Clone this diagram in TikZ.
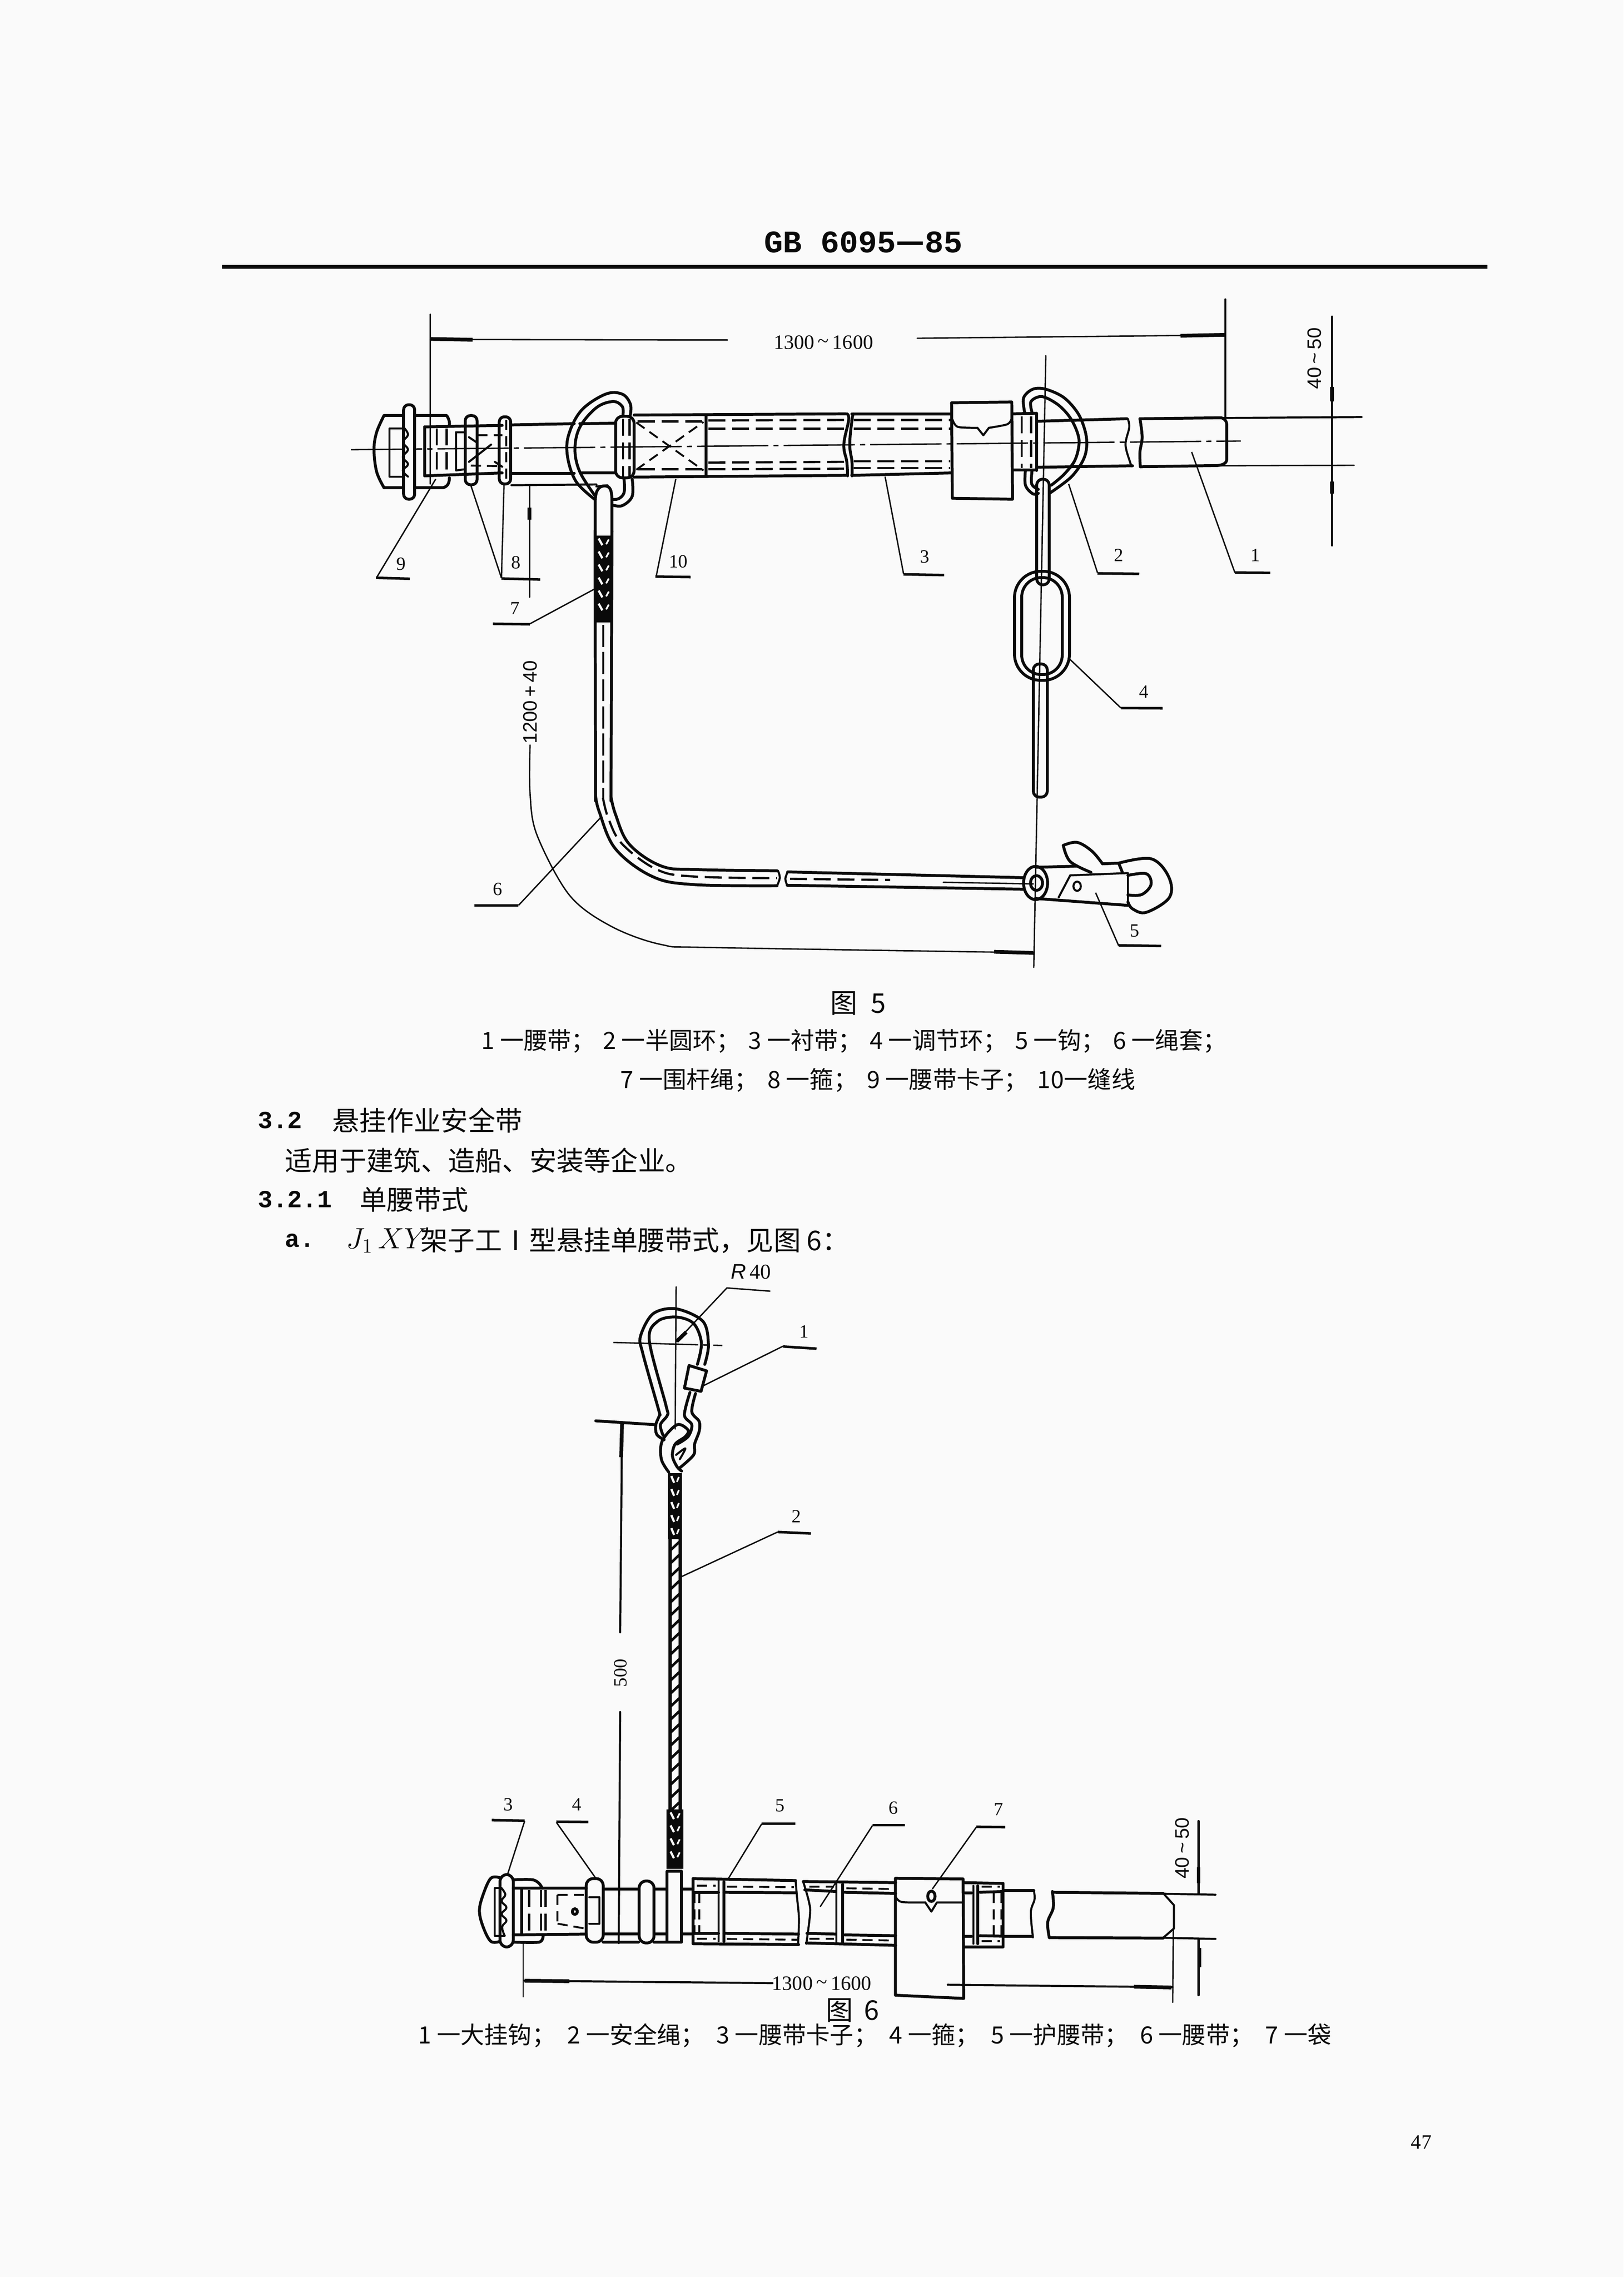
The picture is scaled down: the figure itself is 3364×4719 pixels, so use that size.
\documentclass[tikz,border=0pt]{standalone}
\usepackage{fontspec}
\setmainfont{Liberation Serif}
\setsansfont{Liberation Sans}
\setmonofont{Liberation Mono}
\newfontfamily\cjk{Noto Sans CJK SC}
\definecolor{paper}{HTML}{FAFAFA}
\definecolor{ink}{HTML}{0A0A0A}
\newcommand\rbraid[4]{%
  \fill[ink] (#1,#3) rectangle (#2,#4);
  \pgfmathsetmacro\bxa{#1+0.24*(#2-#1)}%
  \pgfmathsetmacro\bxb{#1+0.44*(#2-#1)}%
  \pgfmathsetmacro\bxc{#1+0.78*(#2-#1)}%
  \pgfmathsetmacro\bxd{#1+0.64*(#2-#1)}%
  \pgfmathsetmacro\bya{#3+6}%
  \pgfmathsetmacro\byb{#3+33}%
  \pgfmathsetmacro\byc{#4-14}%
  \foreach \yy in {\bya,\byb,...,\byc} {
    \draw[paper,line width=1.3pt] (\bxa,\yy) -- (\bxb,\yy+14);
    \draw[paper,line width=1pt] (\bxc,\yy+2) -- (\bxd,\yy+12);
  }
}
\tikzset{
  ol/.style={draw=ink,line width=1.7pt,line join=round,line cap=round},
  om/.style={draw=ink,line width=1.2pt,line join=round,line cap=round},
  tl/.style={draw=ink,line width=0.8pt,line cap=round},
  ld/.style={draw=ink,line width=0.8pt,line join=round},
  shelf/.style={draw=ink,line width=1.5pt},
  heavy/.style={draw=ink,line width=2.2pt},
  dsh/.style={draw=ink,line width=1.3pt,dash pattern=on 10pt off 4pt},
  dshs/.style={draw=ink,line width=1.1pt,dash pattern=on 6pt off 3.5pt},
  cl/.style={draw=ink,line width=0.8pt,dash pattern=on 42pt off 3pt on 3pt off 3pt},
  lab/.style={font=\fontsize{11}{12}\selectfont,text=ink,inner sep=0pt},
  dimt/.style={font=\fontsize{12}{13}\selectfont,text=ink,inner sep=0pt},
  dimr/.style={font=\sffamily\fontsize{11.5}{12}\selectfont,text=ink,inner sep=0pt,rotate=90},
  capt/.style={font=\cjk\fontsize{14}{15}\selectfont,text=ink,inner sep=0pt,anchor=west},
  body/.style={font=\cjk\fontsize{16}{17}\selectfont,text=ink,inner sep=0pt,anchor=west},
  bnum/.style={font=\ttfamily\bfseries\fontsize{14.5}{15}\selectfont,text=ink,inner sep=0pt,anchor=west},
  zA/.style={shift={(700,600)},xscale=.7653,yscale=.5102},
  zB/.style={shift={(1700,600)},xscale=.7653,yscale=.5102},
  zC/.style={shift={(950,1300)},xscale=.9566,yscale=.4783},
  zD/.style={shift={(1200,2600)},xscale=.3827,yscale=.4464},
  zE/.style={shift={(950,3700)},xscale=.6378,yscale=.3333},
  zF/.style={shift={(1750,3700)},xscale=.6378,yscale=.3333},
}
\begin{document}
\begin{tikzpicture}[x=0.01cm,y=-0.01cm]
\fill[paper] (0,0) rectangle (3364,4719);
\useasboundingbox (0,0) rectangle (3364,4719);

% ---------- header ----------
\node[font=\ttfamily\bfseries\fontsize{18.5}{20}\selectfont,text=ink,inner sep=0pt] (title) at (1789,502) {GB 6095{\cjk\bfseries —}85};
\draw[draw=ink,line width=2.4pt] (460,553) -- (3082,553);

% ---------- figure 5: centre line and long verticals ----------
\draw[cl] (727,932) -- (2571,914);
\draw[tl] (2167,737) -- (2142,2005);

% ---------- figure 5, left zoom ----------
\begin{scope}[zA]
  % dimension
  \draw[tl] (250,100) -- (250,790);
  \draw[tl] (250,203) -- (1055,205);
  \draw[heavy] (252,201) -- (365,204);
  \node[dimt] (d1300a) at (1315,215) {1300\,\raisebox{.15ex}{\textasciitilde}\,1600};
  % buckle
  \draw[ol] plot[smooth,tension=.6] coordinates {(125,512) (105,580) (98,650) (105,740) (125,805)};
  \draw[ol] (125,512) -- (295,512) .. controls (302,530) and (303,540) .. (302,552);
  \draw[ol] (125,805) -- (285,805) .. controls (298,800) and (302,785) .. (302,765);
  \draw[ol,fill=paper,rounded corners=3pt] (178,468) rectangle (208,852);
  \draw[om] (178,565) -- (140,565) -- (140,760) -- (178,760);
  \draw[om] plot[smooth,tension=.7] coordinates {(178,560) (190,590) (176,620) (190,650) (176,680) (190,710) (176,735) (190,760)};
  \draw[ol] (235,558) -- (235,757);
  \draw[ol] (235,558) -- (445,552);
  \draw[ol] (235,757) -- (445,745);
  \draw[dsh] (268,565) -- (268,750);
  \draw[dsh] (295,565) -- (295,745);
  \draw[om] (320,580) -- (320,735) -- (345,730);
  \draw[om] (320,580) -- (345,580);
  \draw[dshs] (378,592) -- (445,592);
  \draw[dshs] (360,715) -- (445,718);
  \draw[om] (355,600) -- (375,620);
  \draw[om] (425,700) -- (445,720);
  \draw[om] (415,630) -- (355,700);
  % hoops
  \draw[ol,rounded corners=3pt] (345,512) rectangle (377,793);
  \draw[ol,rounded corners=3pt] (437,517) rectangle (468,790);
  \draw[dshs] (456,530) -- (456,780);
  % belt piece
  \draw[ol] (470,550) -- (640,545);
  \draw[ol] (470,746) -- (640,746);
  \draw[om] (470,795) -- (700,792);
  \draw[ol] (655,545) -- (752,543);
  \draw[ol] (660,745) -- (752,745);
  % arrow of vertical dim
  \draw[tl] (519,795) -- (519,1250);
  \draw[heavy] (519,885) -- (519,935);
  % D ring left
  \draw[ol] plot[smooth,tension=.6] coordinates {(792,510) (792,465) (770,425) (725,425) (660,490) (625,590) (622,680) (645,780) (695,852)};
  \draw[ol] plot[smooth,tension=.6] coordinates {(772,510) (770,475) (745,455) (700,480) (655,560) (642,650) (655,740) (695,835)};
  \draw[ol] plot[smooth,tension=.6] coordinates {(797,770) (797,840) (770,878) (742,875)};
  \draw[ol] plot[smooth,tension=.6] coordinates {(775,770) (775,825) (760,850) (742,852)};
  % rope loop
  \draw[ol] (697,1000) -- (697,860) .. controls (697,810) and (710,798) .. (722,798) .. controls (738,798) and (742,815) .. (742,860) -- (742,1000);
  \draw[om] (700,800) -- (730,795);
  % sleeve
  \draw[ol,rounded corners=4pt] (752,515) rectangle (802,765);
  \draw[dsh] (772,525) -- (772,760);
  \draw[dsh] (790,525) -- (790,760);
  % belt with cross stitch
  \draw[ol] (802,510) -- (1375,505);
  \draw[ol] (802,762) -- (1375,755);
  \draw[ol] (997,510) -- (997,758);
  \draw[dsh] (812,536) -- (990,536);
  \draw[dsh] (812,730) -- (990,730);
  \draw[dshs] (808,540) -- (990,735);
  \draw[dshs] (808,732) -- (990,538);
  \draw[dsh] (1003,532) -- (1372,530);
  \draw[dsh] (1003,565) -- (1372,565);
  \draw[dsh] (1003,703) -- (1372,700);
  \draw[dsh] (1003,730) -- (1372,728);
  \draw[ol] plot[smooth,tension=.7] coordinates {(1378,505) (1383,530) (1370,630) (1378,700) (1380,757)};
  \draw[ol] plot[smooth,tension=.7] coordinates {(1396,505) (1392,530) (1386,630) (1392,700) (1392,757)};
  % leaders + labels
  \node[lab] (n9) at (172,1115) {9};
  \draw[ld] (265,770) -- (105,1170);
  \draw[shelf] (103,1171) -- (195,1175);
  \node[lab] (n8) at (482,1110) {8};
  \draw[ld] (360,795) -- (443,1172);
  \draw[ld] (450,790) -- (443,1172);
  \draw[shelf] (443,1174) -- (548,1178);
  \node[lab] (n10) at (922,1105) {10};
  \draw[ld] (915,770) -- (862,1165);
  \draw[shelf] (860,1166) -- (955,1168);
  \node[lab] (n7) at (480,1295) {7};
  \draw[ld] (697,1215) -- (520,1358);
  \draw[shelf] (520,1360) -- (420,1358);
\end{scope}

% rope of figure 5
\draw[ol] (1233,1100) -- (1234,1660);
\draw[ol] (1268,1100) -- (1266,1660);
\rbraid{1231}{1270}{1110}{1290}
\draw[draw=ink,line width=1.2pt,dash pattern=on 13pt off 3pt] (1250,1295) -- (1250,1660);

% ---------- figure 5, right zoom ----------
\begin{scope}[zB]
  \draw[ol] (85,505) -- (355,505);
  \draw[ol] (85,755) -- (355,745);
  \draw[dsh] (90,530) -- (352,530);
  \draw[dsh] (90,565) -- (352,565);
  \draw[dsh] (90,698) -- (352,698);
  \draw[dsh] (90,725) -- (352,725);
  % pad
  \draw[ol] (355,460) -- (518,457) -- (520,852) -- (357,848) -- cycle;
  \draw[om] plot[smooth,tension=.5] coordinates {(358,530) (372,558) (425,562)};
  \draw[om] (425,562) -- (441,592) -- (456,562);
  \draw[om] plot[smooth,tension=.5] coordinates {(456,562) (505,548) (516,530)};
  % sleeve
  \draw[ol] (520,505) -- (585,503);
  \draw[ol] (520,733) -- (585,733);
  \draw[ol] (585,503) -- (585,735);
  \draw[dsh] (545,515) -- (545,725);
  \draw[dsh] (570,515) -- (570,725);
  \draw[ol] (590,535) -- (830,525);
  \draw[ol] (590,722) -- (845,716);
  \draw[om] plot[smooth,tension=.6] coordinates {(832,525) (836,560) (826,630) (838,700) (843,718)};
  \draw[ol] plot[smooth,tension=.6] coordinates {(865,525) (871,600) (865,660) (866,720)};
  \draw[ol] (865,525) -- (1085,521) .. controls (1095,525) and (1100,535) .. (1100,550) -- (1100,690) .. controls (1100,705) and (1090,713) .. (1075,715) -- (866,720);
  % D ring right
  \draw[ol] plot[smooth,tension=.55] coordinates {(553,500) (550,440) (575,405) (610,405) (660,440) (700,510) (720,600) (715,680) (680,760) (620,828)};
  \draw[ol] plot[smooth,tension=.55] coordinates {(573,500) (570,455) (600,435) (645,470) (680,530) (700,610) (690,690) (660,750) (625,795)};
  \draw[ol] plot[smooth,tension=.6] coordinates {(555,735) (555,795) (575,830) (590,828)};
  \draw[ol] plot[smooth,tension=.6] coordinates {(573,735) (572,790) (590,812)};
  % extension and dim
  \draw[om] (1096,40) -- (1096,522);
  \draw[heavy] (975,188) -- (1096,184);
  \draw[tl] (262,198) -- (1096,185);
  \draw[om] (1085,522) -- (1465,518);
  \draw[tl] (1080,716) -- (1445,714);
  \draw[om] (1385,110) -- (1385,1040);
  \draw[heavy] (1385,395) -- (1385,455);
  \draw[heavy] (1385,780) -- (1385,830);
  \node[dimr] (d40a) at (1338,280) {40\,\textasciitilde\,50};
  \node[lab] (n3) at (283,1085) {3};
  \draw[ld] (175,760) -- (225,1155);
  \draw[shelf] (225,1157) -- (335,1160);
  \node[lab] (n2) at (808,1080) {2};
  \draw[ld] (672,790) -- (750,1150);
  \draw[shelf] (750,1153) -- (863,1155);
  \node[lab] (n1) at (1178,1080) {1};
  \draw[ld] (1005,660) -- (1122,1150);
  \draw[shelf] (1122,1150) -- (1218,1151);
\end{scope}

% chain of figure 5
\draw[ol,rounded corners=3.5pt] (2148,993) rectangle (2174,1212);
\draw[ol,rounded corners=15.5pt] (2102,1184) rectangle (2216,1410);
\draw[ol,rounded corners=11.5pt] (2117,1197) rectangle (2201,1398);
\draw[ol,rounded corners=3.5pt] (2141,1376) rectangle (2170,1652);

% ---------- figure 5, lower zoom ----------
\begin{scope}[zC]
  \draw[ol] plot[smooth,tension=.6] coordinates {(297,730) (305,800) (340,960) (420,1080) (510,1115) (690,1120)};
  \draw[ol] plot[smooth,tension=.6] coordinates {(330,730) (340,810) (370,940) (440,1035) (520,1050) (690,1055)};
  \draw[dsh] plot[smooth,tension=.6] coordinates {(313,740) (325,830) (355,940) (430,1050) (510,1080) (690,1087)};
  \draw[om] plot[smooth,tension=.6] coordinates {(692,1055) (696,1085) (690,1120)};
  \draw[om] plot[smooth,tension=.6] coordinates {(713,1060) (708,1090) (712,1118)};
  \draw[ol] (713,1060) -- (1225,1085);
  \draw[ol] (712,1118) -- (1225,1135);
  \draw[dsh] (718,1090) -- (935,1095);
  \draw[tl] (1050,1105) -- (1245,1112);
  % hook
  \draw[ol] (1250,1108) ellipse (26 and 72);
  \draw[ol] (1252,1108) ellipse (13 and 32);
  \draw[ol] (1252,1040) -- (1340,1035);
  \draw[ol] (1250,1175) -- (1450,1205);
  \draw[om] (1325,1075) -- (1450,1065) -- (1450,1203);
  \draw[om] (1325,1075) -- (1300,1170);
  \draw[om] (1340,1122) ellipse (8 and 20);
  \draw[ol] plot[smooth,tension=.6] coordinates {(1310,945) (1340,932) (1372,970) (1395,1025)};
  \draw[ol] plot[smooth,tension=.6] coordinates {(1310,945) (1325,1015) (1370,1062)};
  \draw[ol] (1395,1025) -- (1430,1022) -- (1438,1062);
  \draw[ol] plot[smooth,tension=.6] coordinates {(1430,1022) (1500,1003) (1538,1080) (1540,1170) (1490,1235) (1460,1220) (1450,1190)};
  \draw[ol] plot[smooth,tension=.6] coordinates {(1450,1075) (1490,1068) (1500,1115) (1480,1158) (1450,1160)};
  % dimension 1200
  \draw[tl] plot[smooth,tension=.55] coordinates {(155,510) (155,720) (170,900) (240,1160) (330,1295) (440,1375) (560,1388) (1245,1410)};
  \draw[heavy] (1160,1406) -- (1245,1411);
  \node[dimr] (d1200) at (155,325) {1200\,+\,40};
  \node[lab] (n4) at (1485,280) {4};
  \draw[ld] (1325,140) -- (1435,350);
  \draw[shelf] (1435,350) -- (1525,351);
  \node[lab] (n5) at (1465,1315) {5};
  \draw[ld] (1380,1150) -- (1430,1380);
  \draw[shelf] (1430,1378) -- (1522,1381);
  \node[lab] (n6) at (85,1135) {6};
  \draw[ld] (310,820) -- (130,1205);
  \draw[shelf] (130,1205) -- (35,1205);
\end{scope}

% ---------- texts in the middle ----------
\node[font=\cjk\fontsize{16}{17}\selectfont,text=ink,inner sep=0pt] (f5) at (1778,2079) {图\hspace{.5em}5};
\node[capt] (c5a) at (997,2158) {\hbox to 15.43cm{1 一腰带；\hfil 2 一半圆环；\hfil 3 一衬带；\hfil 4 一调节环；\hfil 5 一钩；\hfil 6 一绳套；}};
\node[capt] (c5b) at (1285,2239) {\hbox to 10.66cm{7 一围杆绳；\hfil 8 一箍；\hfil 9 一腰带卡子；\hfil 10一缝线}};
\node[bnum] (s32) at (534,2322) {3.2};
\node[body] (s32t) at (688,2322) {悬挂作业安全带};
\node[body] (p1) at (590,2405) {适用于建筑、造船、安装等企业。};
\node[bnum] (s321) at (534,2486) {3.2.1};
\node[body] (s321t) at (745,2486) {单腰带式};
\node[bnum] (sa) at (590,2571) {a.};
\node[body] (pa1) at (717,2571) {\fontsize{17}{18}\selectfont$J_1\,XY$};
\node[body] (pa2) at (871,2571) {架子工Ⅰ型悬挂单腰带式，见图 6：};
\node[lab,font=\fontsize{12}{13}\selectfont] (pg) at (2945,4440) {47};

% ---------- figure 6, top zoom ----------
\begin{scope}[zD]
  \draw[tl] (525,150) -- (520,810);
  \draw[draw=ink,line width=.8pt,dash pattern=on 50pt off 3pt on 3pt off 3pt] (185,408) -- (775,422);
  \draw[ld] (1035,170) -- (800,155) -- (525,405);
  \draw[heavy] (528,403) -- (580,360);
  \node[lab,font=\fontsize{12.5}{13}\selectfont] (r40) at (930,80) {\textsf{\textit{R}}\,40};
  \draw[ol] plot[smooth,tension=.55] coordinates {(680,510) (700,420) (670,310) (525,252) (400,275) (332,380) (345,460) (430,720) (435,745) (415,790) (420,835) (460,860)};
  \draw[ol] plot[smooth,tension=.55] coordinates {(640,510) (662,410) (620,320) (525,290) (425,310) (380,400) (470,700) (478,745) (440,790) (455,840)};
  \draw[ol] (595,515) -- (690,540) -- (660,635) -- (570,620) -- cycle;
  \draw[ol] plot[smooth,tension=.55] coordinates {(600,640) (570,745) (610,790) (590,845) (530,880)};
  \draw[ol] plot[smooth,tension=.55] coordinates {(630,645) (610,730) (650,775) (650,820) (625,880) (620,930) (545,990)};
  \draw[ol] plot[smooth,tension=.55] coordinates {(485,1010) (445,950) (450,865) (530,790) (590,815) (575,845) (520,880) (505,935) (530,985) (555,1005)};
  \draw[om] plot[smooth,tension=.55] coordinates {(525,930) (575,900) (545,950)};
  \draw[ol] (90,772) -- (415,790);
  \node[lab] (n1b) at (1218,358) {1};
  \draw[ld] (670,610) -- (1105,425);
  \draw[shelf] (1105,427) -- (1285,437);
  \node[lab] (n2b) at (1175,1215) {2};
  \draw[ld] (555,1495) -- (1075,1288);
  \draw[shelf] (1075,1288) -- (1255,1295);
\end{scope}

% rope of figure 6
\draw[heavy] (1289,2948) -- (1287,3020);
\draw[om] (1289,2948) -- (1285,3383);
\node[lab,rotate=90] (d500) at (1286,3467) {500};
\draw[om] (1285,3548) -- (1282,4027);
\draw[draw=ink,line width=2pt] (1388,3190) -- (1388,3760);
\draw[draw=ink,line width=2pt] (1409,3190) -- (1409,3760);
\foreach \yy in {3195,3222,...,3740} {
  \draw[draw=ink,line width=1.5pt] (1389,\yy+18) -- (1408,\yy);
}
\rbraid{1384}{1413}{3053}{3190}
\rbraid{1381}{1416}{3750}{3873}

% ---------- figure 6, belt left ----------
\begin{scope}[zE]
  \draw[ol] plot[smooth,tension=.6] coordinates {(135,575) (105,578) (80,680) (68,780) (80,880) (105,970) (135,970)};
  \draw[ol,rounded corners=4pt] (135,555) rectangle (178,1005);
  \draw[om] (140,640) -- (118,640) -- (118,935) -- (150,935);
  \draw[om] plot[smooth,tension=.7] coordinates {(140,640) (152,680) (140,720) (156,760) (140,800) (156,840) (142,880) (150,935)};
  \draw[ol] plot[smooth,tension=.5] coordinates {(178,587) (240,587) (262,610) (272,640)};
  \draw[ol] plot[smooth,tension=.5] coordinates {(178,975) (262,975) (275,935)};
  \draw[ol] (178,640) -- (415,640);
  \draw[ol] (178,930) -- (415,925);
  \draw[ol] (205,640) -- (205,930);
  \draw[dsh] (230,650) -- (230,925);
  \draw[dsh] (268,650) -- (268,925);
  \draw[dsh] (283,650) -- (283,925);
  \draw[dshs] (322,682) -- (410,682);
  \draw[dshs] (322,682) -- (322,860);
  \draw[dshs] (322,860) -- (410,890);
  \draw[ol] (378,785) ellipse (8 and 18);
  \draw[ol,rounded corners=4pt] (415,580) rectangle (470,975);
  \draw[om] (425,695) -- (458,695) -- (458,860) -- (425,860);
  \draw[ol] (470,645) -- (585,645);
  \draw[ol] (470,925) -- (585,925);
  \draw[ol] (470,975) -- (585,975);
  \draw[ol,rounded corners=4pt] (587,595) rectangle (635,980);
  \draw[ol] (635,645) -- (675,645);
  \draw[ol] (635,925) -- (675,925);
  \draw[ol] (635,975) -- (675,975);
  \draw[ol] (678,535) rectangle (725,975);
  \draw[ol] (725,645) -- (760,645);
  \draw[ol] (725,925) -- (760,925);
  % section 5
  \draw[ol] (762,580) -- (1095,592);
  \draw[ol] (762,580) -- (762,985) -- (1105,990);
  \draw[ol] (762,665) -- (845,665);
  \draw[ol] (862,665) -- (1095,668);
  \draw[ol] (762,920) -- (845,920);
  \draw[ol] (862,920) -- (1105,925);
  \draw[om] (845,595) -- (845,970);
  \draw[ol] (862,600) -- (862,970);
  \draw[dshs] (767,670) -- (767,915);
  \draw[dshs] (782,670) -- (782,915);
  \draw[dshs] (775,625) -- (835,625);
  \draw[dshs] (872,630) -- (1090,633);
  \draw[dshs] (775,955) -- (835,955);
  \draw[dshs] (872,955) -- (1100,960);
  \draw[om] plot[smooth,tension=.6] coordinates {(1095,592) (1100,700) (1106,830) (1103,990)};
  \draw[om] plot[smooth,tension=.6] coordinates {(1120,600) (1138,720) (1142,800) (1130,985)};
  % section 6
  \draw[ol] (1120,598) -- (1420,605);
  \draw[ol] (1125,650) -- (1225,660);
  \draw[ol] (1255,665) -- (1420,672);
  \draw[ol] (1132,920) -- (1225,925);
  \draw[ol] (1255,930) -- (1420,935);
  \draw[ol] (1130,980) -- (1420,995);
  \draw[om] (1228,610) -- (1228,975);
  \draw[ol] (1248,615) -- (1248,975);
  \draw[dshs] (1140,630) -- (1220,630);
  \draw[dshs] (1260,640) -- (1415,645);
  \draw[dshs] (1140,955) -- (1220,955);
  \draw[dshs] (1260,960) -- (1415,965);
  % dim
  \draw[tl] (210,975) -- (210,1315);
  \draw[om] (215,1215) -- (1020,1230);
  \draw[heavy] (215,1215) -- (360,1218);
  \node[dimt] (d1300b) at (1180,1232) {1300\,\raisebox{.15ex}{\textasciitilde}\,1600};
  % labels
  \node[lab] (n3b) at (162,120) {3};
  \draw[ld] (215,222) -- (160,550);
  \draw[shelf] (108,216) -- (215,220);
  \node[lab] (n4b) at (385,120) {4};
  \draw[ld] (318,230) -- (445,575);
  \draw[shelf] (318,226) -- (422,228);
  \node[lab] (n5b) at (1045,125) {5};
  \draw[ld] (985,240) -- (875,585);
  \draw[shelf] (985,238) -- (1095,238);
  \node[lab] (n6b) at (1413,140) {6};
  \draw[ld] (1345,250) -- (1175,755);
  \draw[shelf] (1345,248) -- (1450,248);
  \node[font=\cjk\fontsize{16}{17}\selectfont,text=ink,inner sep=0pt] (f6) at (1280,1400) {图\hspace{.4em}6};
\end{scope}

% ---------- figure 6, belt right ----------
\begin{scope}[zF]
  \draw[ol] (165,578) -- (385,582) -- (387,1325) -- (165,1305) -- cycle;
  \draw[om] plot[smooth,tension=.5] coordinates {(165,690) (185,725) (262,728)};
  \draw[om] (262,728) -- (282,785) -- (300,728) -- (383,728);
  \draw[ol] (282,690) ellipse (12 and 32);
  \draw[ol] (387,605) -- (515,610) -- (515,1005) -- (387,1005);
  \draw[ol] (387,668) -- (412,668);
  \draw[ol] (387,940) -- (412,940);
  \draw[om] (418,625) -- (418,985);
  \draw[ol] (432,625) -- (432,985);
  \draw[ol] (440,665) -- (515,660);
  \draw[ol] (440,935) -- (515,938);
  \draw[dshs] (485,670) -- (485,930);
  \draw[dshs] (510,670) -- (510,930);
  \draw[dshs] (445,630) -- (505,630);
  \draw[dshs] (445,970) -- (505,970);
  \draw[ol] (515,655) -- (615,655);
  \draw[ol] (515,940) -- (610,940);
  \draw[om] plot[smooth,tension=.6] coordinates {(615,655) (617,710) (605,790) (612,945)};
  \draw[ol] plot[smooth,tension=.6] coordinates {(675,660) (678,760) (660,850) (665,947)};
  \draw[ol] (675,665) -- (1035,672);
  \draw[ol] (665,947) -- (1035,950);
  \draw[om] (1037,675) -- (1070,745) -- (1070,890) -- (1035,948);
  \draw[om] (1030,674) -- (1205,680);
  \draw[om] (1035,948) -- (1205,955);
  \draw[om] (1150,222) -- (1150,674);
  \draw[heavy] (1150,510) -- (1150,610);
  \draw[om] (1150,955) -- (1150,1305);
  \draw[heavy] (1152,1010) -- (1152,1130);
  \draw[tl] (1068,890) -- (1066,1350);
  \draw[om] (335,1240) -- (1065,1255);
  \draw[heavy] (940,1252) -- (1062,1257);
  \node[dimr] (d40b) at (1097,390) {40\,\textasciitilde\,50};
  \node[lab] (n7b) at (500,150) {7};
  \draw[ld] (428,260) -- (285,645);
  \draw[shelf] (428,258) -- (522,260);
\end{scope}

\node[capt] (c6) at (866,4218) {\hbox to 18.91cm{1 一大挂钩；\hfil 2 一安全绳；\hfil 3 一腰带卡子；\hfil 4 一箍；\hfil 5 一护腰带；\hfil 6 一腰带；\hfil 7 一袋}};
\end{tikzpicture}
\end{document}
